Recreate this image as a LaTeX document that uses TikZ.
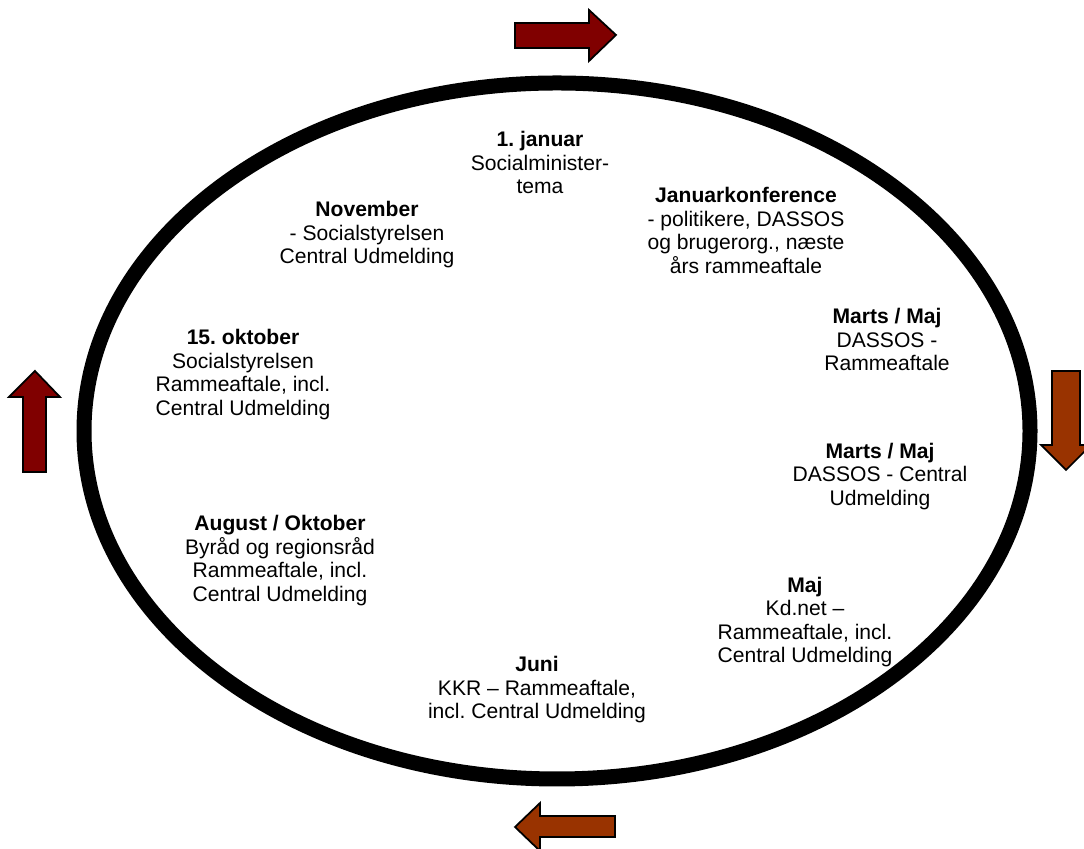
\documentclass[tikz,border=0pt]{standalone}
\usepackage{fontspec}
\setmainfont{Liberation Sans}
\usepackage{tikz}
\usepackage{color}
\definecolor{darkred}{rgb}{0.5,0,0}
\definecolor{rust}{rgb}{0.6,0.2,0}
\frenchspacing

\tikzset{
  step text/.style={align=center, font=\fontsize{12}{13.4}\selectfont},
  block arrow/.style={draw=black, line width=1pt, line join=miter}
}

\begin{document}
\begin{tikzpicture}
  \useasboundingbox (0,0) rectangle (21.68,16.98);
  \draw[line width=0.3cm] (11.14,8.36) ellipse (9.46cm and 6.96cm); % the year wheel
  % block arrows round the wheel
  \filldraw[block arrow, fill=darkred]
    (10.30,16.52) -- (11.78,16.52) -- (11.78,16.78) -- (12.32,16.28)
    -- (11.78,15.76) -- (11.78,16.02) -- (10.30,16.02) -- cycle;
  \filldraw[block arrow, fill=rust]
    (21.04,9.56) -- (21.60,9.56) -- (21.60,8.08) -- (21.82,8.08)
    -- (21.32,7.58) -- (20.82,8.08) -- (21.04,8.08) -- cycle;
  \filldraw[block arrow, fill=rust]
    (12.30,0.66) -- (10.80,0.66) -- (10.80,0.92) -- (10.30,0.44)
    -- (10.80,-0.04) -- (10.80,0.24) -- (12.30,0.24) -- cycle;
  \filldraw[block arrow, fill=darkred]
    (0.46,7.54) -- (0.46,9.04) -- (0.18,9.04) -- (0.70,9.56)
    -- (1.20,9.04) -- (0.92,9.04) -- (0.92,7.54) -- cycle;
  % the steps of the year
  \node[step text] (jan) at (10.80,13.73) {\textbf{1. januar}\\Socialminister-\\tema};
  \node[step text] (konf) at (14.92,12.37) {\textbf{Januarkonference}\\- politikere, DASSOS\\og brugerorg., næste\\års rammeaftale};
  \node[step text] (nov) at (7.34,12.28) {\textbf{November}\\- Socialstyrelsen\\Central Udmelding};
  \node[step text] (marts1) at (17.74,10.19) {\textbf{Marts / Maj}\\DASSOS -\\Rammeaftale};
  \node[step text] (okt) at (4.86,9.49) {\textbf{15. oktober}\\Socialstyrelsen\\Rammeaftale, incl.\\Central Udmelding};
  \node[step text] (marts2) at (17.60,7.45) {\textbf{Marts / Maj}\\DASSOS - Central\\Udmelding};
  \node[step text] (aug) at (5.60,5.77) {\textbf{August / Oktober}\\Byråd og regionsråd\\Rammeaftale, incl.\\Central Udmelding};
  \node[step text] (maj) at (16.10,4.54) {\textbf{Maj}\\Kd.net –\\Rammeaftale, incl.\\Central Udmelding};
  \node[step text] (juni) at (10.74,3.18) {\textbf{Juni}\\KKR – Rammeaftale,\\incl. Central Udmelding};
\end{tikzpicture}
\end{document}
